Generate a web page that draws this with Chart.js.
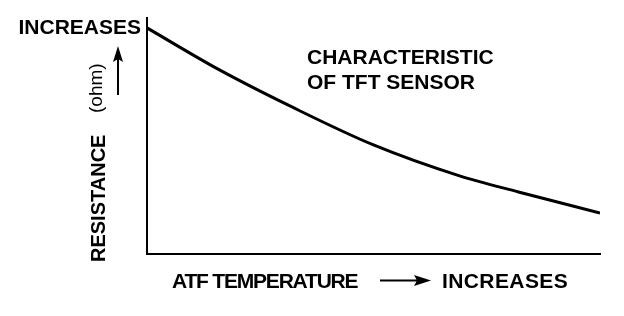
<!DOCTYPE html>
<html>
<head>
<meta charset="utf-8">
<script src="https://cdn.jsdelivr.net/npm/chart.js@4"></script>
<style>
html,body{margin:0;padding:0;background:#fff;}
canvas{display:block;}
</style>
</head>
<body>
<canvas id="c" width="624" height="316"></canvas>
<script>
// Relative ATF temperature (0 = low, 100 = high)
const temperature = [0, 16, 32, 50, 69, 82, 100];
// Relative resistance (0 = low, 100 = high)
const resistance = [95.8, 78.0, 62.3, 46.2, 33.1, 26.3, 17.4];

const yLabel = 'RESISTANCE';
const yUnit = '(ohm)';
const yHigh = 'INCREASES';
const xLabel = 'ATF TEMPERATURE';
const xHigh = 'INCREASES';
const noteLines = ['CHARACTERISTIC', 'OF TFT SENSOR'];

const FONT = '"Liberation Sans", Arial, sans-serif';

const annotations = {
  id: 'annotations',
  afterDraw(chart) {
    const ctx = chart.ctx;
    const a = chart.chartArea;
    ctx.save();
    ctx.fillStyle = '#000';
    ctx.strokeStyle = '#000';
    ctx.textBaseline = 'alphabetic';

    // top-left "INCREASES"
    ctx.font = 'bold 21px ' + FONT;
    ctx.textAlign = 'right';
    ctx.fillText(yHigh, a.left - 6, 34);

    // note
    ctx.textAlign = 'left';
    ctx.fillText(noteLines[0], 307, 64);
    ctx.fillText(noteLines[1], 307, 89);

    // x label
    ctx.font = 'bold 21px ' + FONT;
    if ('letterSpacing' in ctx) ctx.letterSpacing = '-1.2px';
    ctx.fillText(xLabel, 172, 288);
    if ('letterSpacing' in ctx) ctx.letterSpacing = '0.4px';
    ctx.fillText(xHigh, 442, 288);
    if ('letterSpacing' in ctx) ctx.letterSpacing = '0px';
    // x arrow
    ctx.lineWidth = 2;
    ctx.beginPath();
    ctx.moveTo(380, 280.5);
    ctx.lineTo(418, 280.5);
    ctx.stroke();
    ctx.beginPath();
    ctx.moveTo(431, 280.5);
    ctx.lineTo(414, 275);
    ctx.lineTo(417, 280.5);
    ctx.lineTo(414, 286);
    ctx.closePath();
    ctx.fill();

    // y label (rotated)
    ctx.save();
    ctx.translate(105, 262);
    ctx.rotate(-Math.PI / 2);
    ctx.textAlign = 'left';
    ctx.font = 'bold 20px ' + FONT;
    ctx.fillText(yLabel, 0, 0);
    ctx.restore();

    ctx.save();
    ctx.translate(102, 113);
    ctx.rotate(-Math.PI / 2);
    ctx.textAlign = 'left';
    ctx.font = '19px ' + FONT;
    ctx.fillText(yUnit, 0, 0);
    ctx.restore();

    // y arrow
    ctx.lineWidth = 2;
    ctx.beginPath();
    ctx.moveTo(118, 95);
    ctx.lineTo(118, 58);
    ctx.stroke();
    ctx.beginPath();
    ctx.moveTo(118, 46);
    ctx.lineTo(113, 62);
    ctx.lineTo(118, 59);
    ctx.lineTo(123, 62);
    ctx.closePath();
    ctx.fill();

    ctx.restore();
  }
};

new Chart(document.getElementById('c'), {
  type: 'line',
  data: {
    labels: temperature,
    datasets: [{
      data: temperature.map((t, i) => ({x: t, y: resistance[i]})),
      borderColor: '#000',
      borderWidth: 3,
      pointRadius: 0,
      fill: false,
      cubicInterpolationMode: 'monotone'
    }]
  },
  options: {
    responsive: false,
    animation: false,
    layout: {padding: {left: 147, right: 24, top: 18, bottom: 62}},
    plugins: {legend: {display: false}, tooltip: {enabled: false}},
    scales: {
      x: {
        type: 'linear', min: 0, max: 100,
        grid: {display: false, drawTicks: false},
        border: {display: true, color: '#000', width: 2},
        ticks: {display: false}
      },
      y: {
        type: 'linear', min: 0, max: 100,
        grid: {display: false, drawTicks: false},
        border: {display: true, color: '#000', width: 2},
        ticks: {display: false}
      }
    }
  },
  plugins: [annotations]
});
</script>
</body>
</html>
